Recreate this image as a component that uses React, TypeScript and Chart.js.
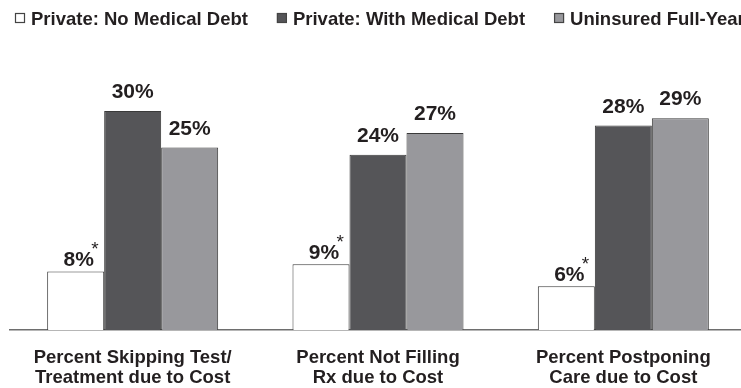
import React, { useEffect, useRef } from "react";
import { Chart, registerables } from "chart.js";

Chart.register(...registerables);

// ---- data ----
const categories: string[][] = [
  ["Percent Skipping Test/", "Treatment due to Cost"],
  ["Percent Not Filling", "Rx due to Cost"],
  ["Percent Postponing", "Care due to Cost"],
];
const seriesNames = ["Private: No Medical Debt", "Private: With Medical Debt", "Uninsured Full-Year"];
const noDebt = [8, 9, 6];
const withDebt = [30, 24, 28];
const uninsured = [25, 27, 29];
const asteriskSeries = 0; // series marked with "*"
const yMax = 40;

// ---- styles ----
const FONT = '"Liberation Sans", Arial, Helvetica, sans-serif';
const TEXT = "#231f20";
const FILLS = ["#ffffff", "#555558", "#98989c"];
const BORDER = "#3a3a3a";

const legendPlugin = {
  id: "customLegend",
  afterDraw(chart: any) {
    const ctx = chart.ctx;
    ctx.save();
    ctx.font = `bold 18.5px ${FONT}`;
    ctx.textBaseline = "alphabetic";
    ctx.textAlign = "left";
    let x = 15;
    chart.data.datasets.forEach((ds: any) => {
      ctx.fillStyle = ds.backgroundColor;
      ctx.fillRect(x, 13, 10, 10);
      ctx.strokeStyle = "#444";
      ctx.lineWidth = 1.2;
      ctx.strokeRect(x + 0.5, 13.5, 9, 9);
      ctx.fillStyle = TEXT;
      ctx.fillText(ds.label, x + 16, 24.5);
      x = x + 16 + ctx.measureText(ds.label).width + 29;
    });
    ctx.restore();
  },
};

const valueLabelPlugin = {
  id: "valueLabels",
  afterDatasetsDraw(chart: any) {
    const ctx = chart.ctx;
    ctx.save();
    chart.data.datasets.forEach((ds: any, di: number) => {
      const meta = chart.getDatasetMeta(di);
      meta.data.forEach((bar: any, i: number) => {
        const text = `${ds.data[i]}%`;
        ctx.font = `bold 21px ${FONT}`;
        ctx.fillStyle = TEXT;
        ctx.textAlign = "center";
        ctx.textBaseline = "alphabetic";
        const isStar = di === asteriskSeries;
        const cx = bar.x + (isStar ? 3 : 0);
        const by = bar.y - (isStar ? 5.5 : 13);
        ctx.fillText(text, cx, by);
        if (isStar) {
          const w = ctx.measureText(text).width;
          ctx.font = `19px ${FONT}`;
          ctx.fillText("*", cx + w / 2 + 1, by - 11);
        }
      });
    });
    ctx.restore();
  },
};

export default function App() {
  const ref = useRef<HTMLCanvasElement | null>(null);
  useEffect(() => {
    if (!ref.current) return;
    const chart = new Chart(ref.current, {
      type: "bar",
      data: {
        labels: categories,
        datasets: [noDebt, withDebt, uninsured].map((d, i) => ({
          label: seriesNames[i],
          data: d,
          backgroundColor: FILLS[i],
          borderColor: BORDER,
          borderWidth: 1,
          borderSkipped: "bottom",
          barPercentage: 1,
          categoryPercentage: 0.697,
        })),
      },
      options: {
        responsive: false,
        animation: false,
        events: [],
        layout: { padding: { left: 10, right: 14, top: 330 - 7.3 * yMax, bottom: 0 } },
        plugins: { legend: { display: false }, tooltip: { enabled: false }, title: { display: false } },
        scales: {
          x: {
            type: "category",
            grid: { display: false, drawTicks: false },
            border: { display: true, color: "#6e6e6e", width: 1.5 },
            ticks: {
              color: TEXT,
              font: { family: FONT, size: 18.5, weight: "bold", lineHeight: 1.13 },
              padding: 17,
              maxRotation: 0,
              autoSkip: false,
            },
            afterFit: (scale: any) => {
              scale.height = 58;
            },
          },
          y: { display: false, min: 0, max: yMax },
        },
      },
      plugins: [legendPlugin, valueLabelPlugin],
    } as any);
    return () => chart.destroy();
  }, []);
  return (
    <div style={{ position: "fixed", left: 0, top: 0, width: 741, height: 388, overflow: "hidden", background: "#fff" }}>
      <canvas ref={ref} width={760} height={388} />
    </div>
  );
}
